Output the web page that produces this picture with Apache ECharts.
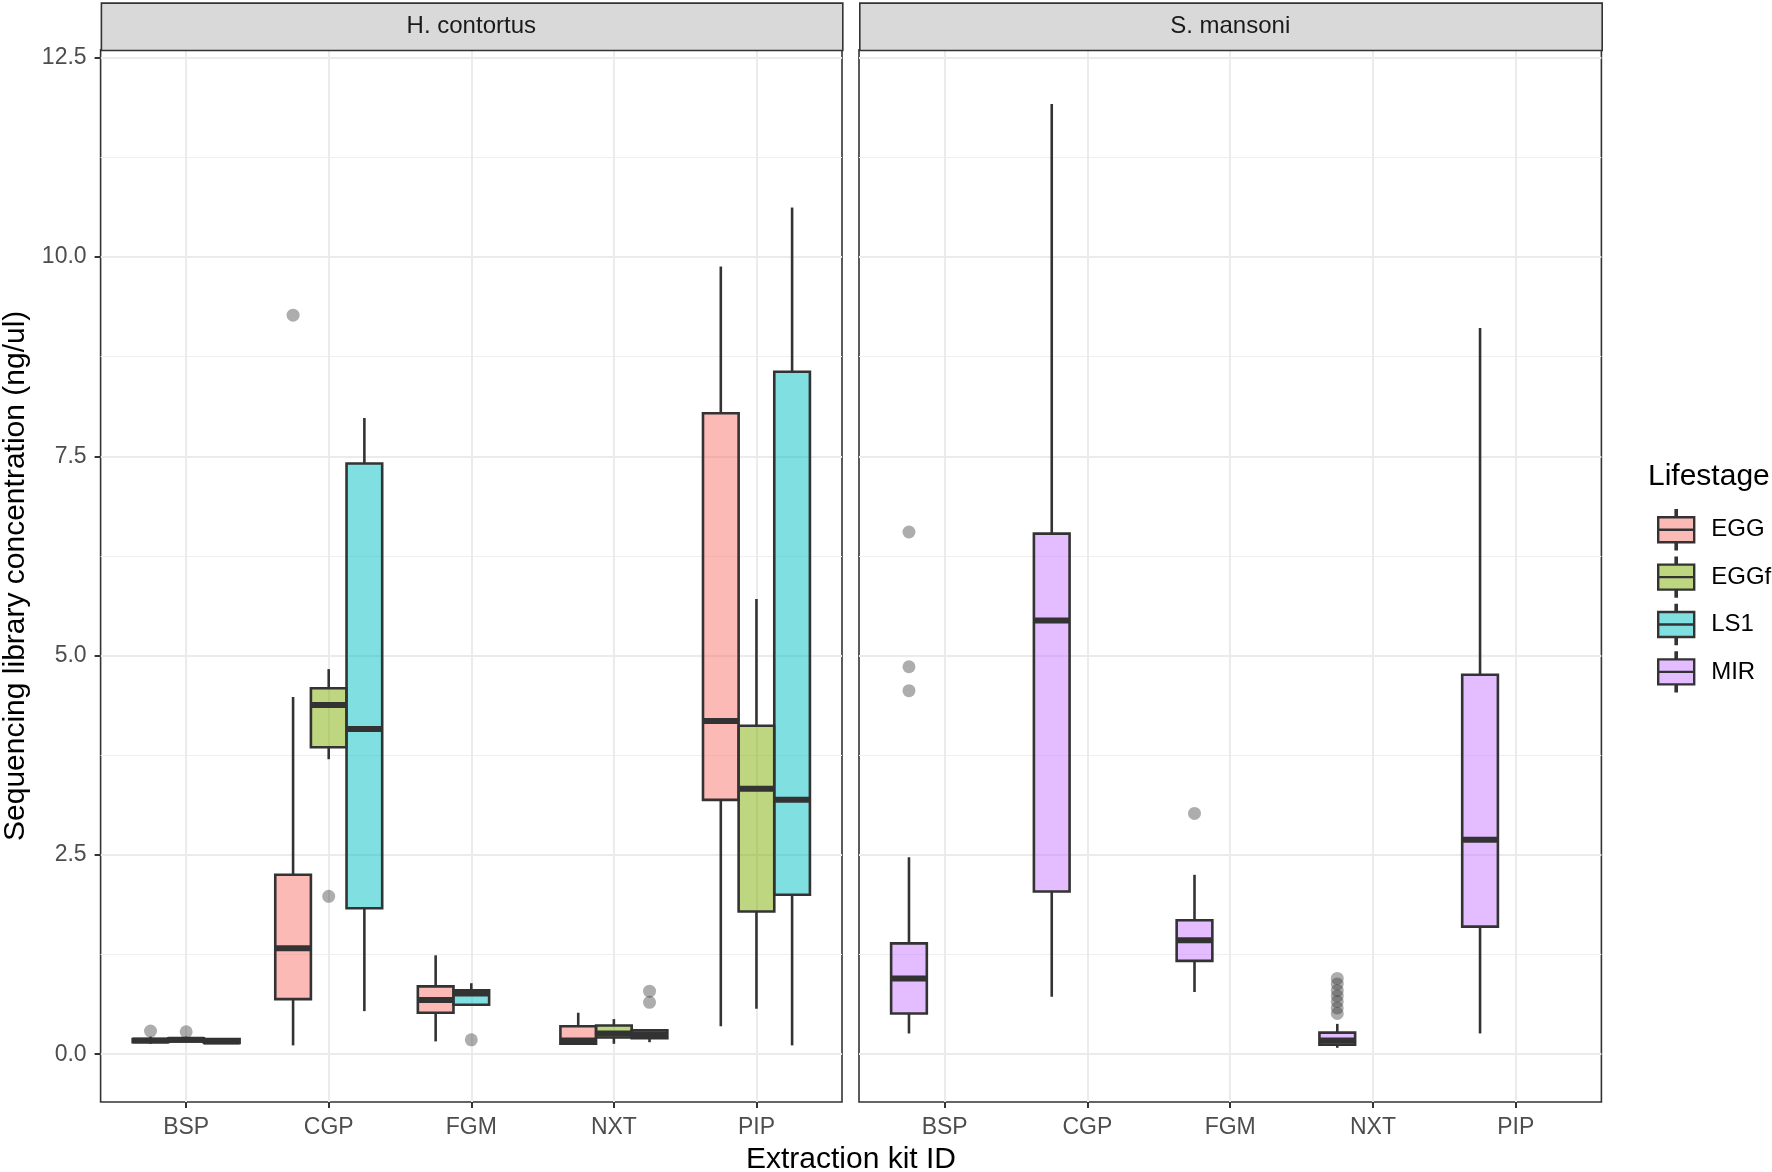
<!DOCTYPE html>
<html>
<head>
<meta charset="utf-8">
<title>Sequencing library concentration</title>
<script src="https://cdn.jsdelivr.net/npm/echarts@6/dist/echarts.min.js"></script>
<style>
  html, body { margin: 0; padding: 0; background: #fff; }
  #chart { width: 1772px; height: 1172px; }
</style>
</head>
<body>
<div id="chart"></div>
<script>
// kits on the x axis
var kits = ['BSP', 'CGP', 'FGM', 'NXT', 'PIP'];
var hcGroups = ['EGG', 'EGGf', 'LS1'];
var smGroups = ['MIR'];

// [lower whisker, Q1, median, Q3, upper whisker] per kit, null = no data
var hcEGG = [
    [0.13, 0.15, 0.17, 0.19, 0.22],
    [0.11, 0.69, 1.33, 2.25, 4.48],
    [0.16, 0.52, 0.68, 0.85, 1.24],
    [0.12, 0.13, 0.17, 0.35, 0.52],
    [0.35, 3.19, 4.18, 8.04, 9.88]
];
var hcEGGf = [
    [0.15, 0.16, 0.18, 0.20, 0.22],
    [3.70, 3.85, 4.38, 4.59, 4.83],
    null,
    [0.13, 0.21, 0.26, 0.36, 0.44],
    [0.57, 1.79, 3.33, 4.12, 5.71]
];
var hcLS1 = [
    [0.13, 0.14, 0.16, 0.19, 0.20],
    [0.54, 1.83, 4.08, 7.41, 7.98],
    [0.61, 0.62, 0.76, 0.80, 0.89],
    [0.15, 0.20, 0.25, 0.30, 0.31],
    [0.11, 2.00, 3.19, 8.56, 10.62]
];
var smMIR = [
    [0.26, 0.51, 0.95, 1.39, 2.47],
    [0.72, 2.04, 5.44, 6.53, 11.92],
    [0.78, 1.17, 1.43, 1.68, 2.25],
    [0.08, 0.12, 0.17, 0.27, 0.38],
    [0.26, 1.60, 2.69, 4.76, 9.11]
];

// outliers per kit
var hcEGGOut = [[0.29], [9.27], [], [], []];
var hcEGGfOut = [[0.28], [1.98], [], [], []];
var hcLS1Out = [[], [], [0.18], [0.79, 0.65], []];
var smMIROut = [[6.55, 4.86, 4.56], [], [3.02], [0.95, 0.88, 0.80, 0.73, 0.66, 0.58, 0.51], []];

var yTicks = [0, 2.5, 5, 7.5, 10, 12.5];
var yMinor = [1.25, 3.75, 6.25, 8.75, 11.25];

var fills = {
    EGG: 'rgba(248,118,109,0.5)',
    EGGf: 'rgba(124,174,0,0.5)',
    LS1: 'rgba(0,191,196,0.5)',
    MIR: 'rgba(199,124,255,0.5)'
};

var SLOT = 0.25; //每个箱子宽度(轴单位)
var LINE = '#333333';
var FONT = '"Liberation Sans", Arial, Helvetica, sans-serif';

// panel layout (px)
var panels = [
    { left: 100.6, width: 741.4, title: 'H. contortus' },
    { left: 859, width: 742.4, title: 'S. mansoni' }
];
var PTOP = 49.7, PBOTTOM = 1102, STRIP_TOP = 2.3;

// boxes are dodged left-aligned: slot = position among groups present at that kit
function slotsFor(statsList) {
    var slots = statsList.map(function () { return []; });
    for (var k = 0; k < kits.length; k++) {
        var n = 0;
        for (var g = 0; g < statsList.length; g++) {
            if (statsList[g][k]) { slots[g][k] = n; n++; }
        }
    }
    return slots;
}

function renderBox(params, api) {
    var cat = api.value(0), slot = api.value(1);
    var x = cat + (slot - 1) * SLOT;
    var pLo = api.coord([x, api.value(2)]);
    var pQ1 = api.coord([x, api.value(3)]);
    var pMed = api.coord([x, api.value(4)]);
    var pQ3 = api.coord([x, api.value(5)]);
    var pHi = api.coord([x, api.value(6)]);
    var w = api.size([SLOT, 0])[0];
    var cx = pMed[0];
    return {
        type: 'group',
        children: [
            { type: 'line', shape: { x1: cx, y1: pHi[1], x2: cx, y2: pQ3[1] }, style: { stroke: LINE, lineWidth: 2.6 } },
            { type: 'line', shape: { x1: cx, y1: pQ1[1], x2: cx, y2: pLo[1] }, style: { stroke: LINE, lineWidth: 2.6 } },
            { type: 'rect', shape: { x: cx - w / 2, y: pQ3[1], width: w, height: pQ1[1] - pQ3[1] },
              style: { fill: api.visual('color'), stroke: LINE, lineWidth: 2.6 } },
            { type: 'line', shape: { x1: cx - w / 2, y1: pMed[1], x2: cx + w / 2, y2: pMed[1] }, style: { stroke: LINE, lineWidth: 6 } }
        ]
    };
}

function boxSeries(name, stats, slots, panelIdx) {
    var data = [];
    for (var k = 0; k < kits.length; k++) {
        if (!stats[k]) continue;
        data.push([k + 1, slots[k]].concat(stats[k]));
    }
    return {
        name: name,
        type: 'custom',
        xAxisIndex: panelIdx,
        yAxisIndex: panelIdx * 2,
        renderItem: renderBox,
        itemStyle: { color: fills[name] },
        encode: { x: 0, y: [2, 3, 4, 5, 6] },
        data: data,
        z: 3
    };
}

function outlierSeries(outs, slots, panelIdx) {
    var data = [];
    for (var g = 0; g < outs.length; g++) {
        for (var k = 0; k < kits.length; k++) {
            for (var i = 0; i < outs[g][k].length; i++) {
                data.push([k + 1 + (slots[g][k] - 1) * SLOT, outs[g][k][i]]);
            }
        }
    }
    return {
        name: 'outliers' + panelIdx,
        type: 'scatter',
        xAxisIndex: panelIdx,
        yAxisIndex: panelIdx * 2,
        symbolSize: 13,
        itemStyle: { color: 'rgba(51,51,51,0.5)' },
        data: data,
        z: 4
    };
}

var hcStats = [hcEGG, hcEGGf, hcLS1];
var hcSlots = slotsFor(hcStats);
var smStats = [smMIR];
var smSlots = slotsFor(smStats);

var series = [];
hcGroups.forEach(function (g, i) { series.push(boxSeries(g, hcStats[i], hcSlots[i], 0)); });
smGroups.forEach(function (g, i) { series.push(boxSeries(g, smStats[i], smSlots[i], 1)); });
series.push(outlierSeries([hcEGGOut, hcEGGfOut, hcLS1Out], hcSlots, 0));
series.push(outlierSeries([smMIROut], smSlots, 1));

var grids = panels.map(function (p) {
    return {
        left: p.left, top: PTOP, width: p.width, height: PBOTTOM - PTOP,
        show: true, backgroundColor: '#fff', borderColor: LINE, borderWidth: 1.6,
        containLabel: false, outerBoundsMode: 'none'
    };
});

var xAxes = panels.map(function (p, i) {
    return {
        type: 'value', gridIndex: i, min: 0.4, max: 5.6, position: 'bottom',
        axisLine: { show: false, onZero: false },
        axisTick: { show: true, length: 6, customValues: [1, 2, 3, 4, 5], lineStyle: { color: LINE, width: 2 } },
        axisLabel: {
            customValues: [1, 2, 3, 4, 5], margin: 14,
            fontFamily: FONT, fontSize: 23, color: '#4D4D4D',
            formatter: function (v) { return kits[Math.round(v) - 1]; }
        },
        splitLine: { show: true, customValues: [1, 2, 3, 4, 5], lineStyle: { color: '#EBEBEB', width: 2 } }
    };
});

var yAxes = [];
panels.forEach(function (p, i) {
    yAxes.push({
        type: 'value', gridIndex: i, min: -0.6, max: 12.6,
        name: i === 0 ? 'Sequencing library concentration (ng/ul)' : '',
        nameLocation: 'middle', nameGap: 70,
        nameTextStyle: { fontFamily: FONT, fontSize: 30, color: '#000' },
        axisLine: { show: false, onZero: false },
        axisTick: { show: i === 0, length: 6, customValues: yTicks, lineStyle: { color: LINE, width: 2 } },
        axisLabel: {
            show: i === 0, customValues: yTicks, margin: 14,
            fontFamily: FONT, fontSize: 23, color: '#4D4D4D',
            formatter: function (v) { return v.toFixed(1); }
        },
        splitLine: { show: true, customValues: yTicks, lineStyle: { color: '#EBEBEB', width: 2 } }
    });
    // minor grid lines
    yAxes.push({
        type: 'value', gridIndex: i, min: -0.6, max: 12.6, position: 'left',
        axisLine: { show: false, onZero: false },
        axisTick: { show: false, customValues: yMinor },
        axisLabel: { show: false, customValues: yMinor },
        splitLine: { show: true, customValues: yMinor, lineStyle: { color: '#EFEFEF', width: 1 } }
    });
});

var keyIcon = 'path://M17.4,0 L18.6,0 L18.6,7 L17.4,7 Z M0,7 L36,7 L36,19.5 L0,19.5 Z M0,19.5 L36,19.5 L36,32 L0,32 Z M17.4,32 L18.6,32 L18.6,39 L17.4,39 Z';
var legendNames = hcGroups.concat(smGroups);

var graphics = [];
panels.forEach(function (p) {
    graphics.push({
        type: 'rect', left: p.left, top: STRIP_TOP, z: 10,
        shape: { width: p.width, height: PTOP - STRIP_TOP },
        style: { fill: '#D9D9D9', stroke: LINE, lineWidth: 1.6 }
    });
    graphics.push({
        type: 'text', z: 11,
        x: p.left + p.width / 2, y: (STRIP_TOP + PTOP) / 2,
        style: { text: p.title, fontFamily: FONT, fontSize: 24, fill: '#1A1A1A', align: 'center', verticalAlign: 'middle' }
    });
});
graphics.push({
    type: 'text', x: (panels[0].left + panels[1].left + panels[1].width) / 2, y: 1160,
    style: { text: 'Extraction kit ID', fontFamily: FONT, fontSize: 30, fill: '#000', align: 'center', verticalAlign: 'middle' }
});
graphics.push({
    type: 'text', x: 1648, y: 477,
    style: { text: 'Lifestage', fontFamily: FONT, fontSize: 30, fill: '#000', align: 'left', verticalAlign: 'middle' }
});

var myChart = echarts.init(document.getElementById('chart'), null, { renderer: 'canvas' });
myChart.setOption({
    animation: false,
    backgroundColor: '#fff',
    grid: grids,
    xAxis: xAxes,
    yAxis: yAxes,
    legend: {
        orient: 'vertical', left: 1652, top: 504,
        itemWidth: 36, itemHeight: 39, itemGap: 6,
        selectedMode: false,
        textStyle: { fontFamily: FONT, fontSize: 24, color: '#000', padding: [0, 0, 0, 12] },
        data: legendNames.map(function (n) {
            return { name: n, icon: keyIcon, itemStyle: { color: fills[n], borderColor: LINE, borderWidth: 2.4 } };
        })
    },
    graphic: graphics,
    series: series
});
</script>
</body>
</html>
